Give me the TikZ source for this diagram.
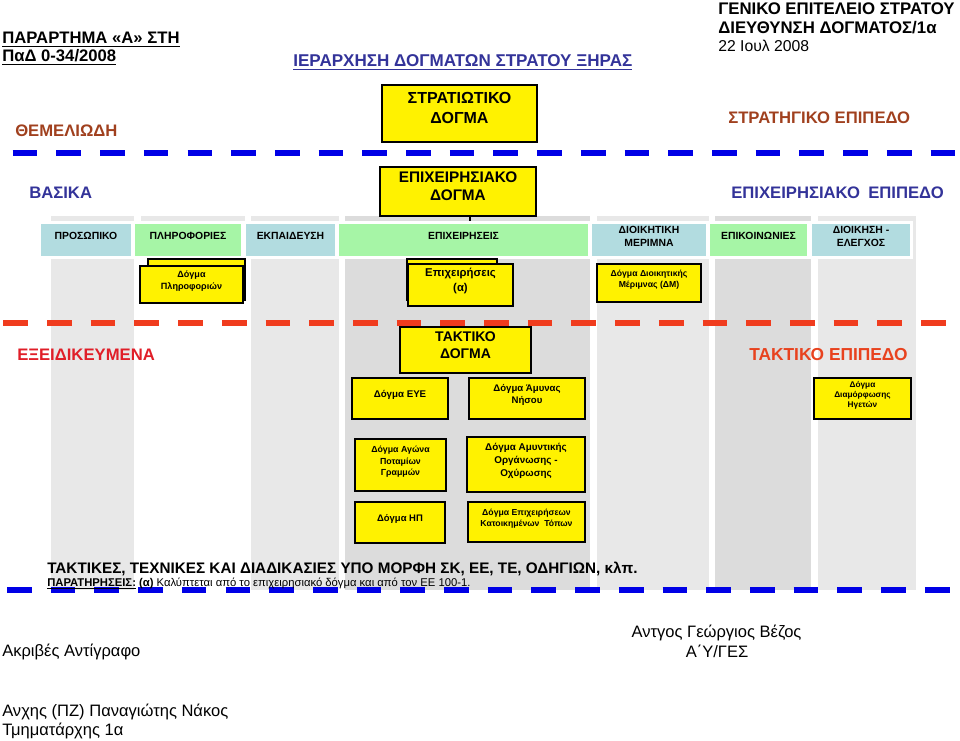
\documentclass[tikz,border=0pt]{standalone}
\usepackage{fontspec}
\setmainfont{Liberation Sans}
\usetikzlibrary{fit}

\definecolor{brownlbl}{RGB}{160,64,30}
\definecolor{navylbl}{RGB}{51,51,153}
\definecolor{redlbl}{RGB}{224,30,40}
\definecolor{orangelbl}{RGB}{232,66,30}
\definecolor{bluedash}{RGB}{0,0,230}
\definecolor{reddash}{RGB}{240,60,30}
\definecolor{hdrblue}{RGB}{178,220,224}
\definecolor{hdrgreen}{RGB}{166,245,166}
\definecolor{collight}{RGB}{232,232,232}
\definecolor{coldark}{RGB}{220,220,220}

\begin{document}
\begin{tikzpicture}[x=0.75pt, y=-0.75pt, line join=miter,
  dogma/.style={draw=black, fill=yellow, line width=1.6pt, inner sep=0pt, align=center, font=\bfseries},
  hdr/.style={fill=#1, preaction={draw=white, line width=4.5pt}, inner sep=0pt, align=center,
    font=\bfseries\fontsize{7.8}{9.5}\selectfont},
  lbl/.style={anchor=base west, inner sep=0pt, font=\bfseries\fontsize{12.5}{14}\selectfont},
  plain/.style={anchor=base west, inner sep=0pt, font=\fontsize{12.4}{14}\selectfont},
  level/.style={line width=4.5pt, dash pattern=on 18.5pt off 14.28pt}]
  \useasboundingbox (0,0) rectangle (960,741);

  % στήλες
  \fill[collight] (51,216) rectangle (134,590);
  \fill[collight] (141,216) rectangle (245,222);
  \fill[collight] (251,216) rectangle (339,590);
  \fill[coldark] (345,216) rectangle (590,590);
  \fill[collight] (597,216) rectangle (709,590);
  \fill[coldark] (715,216) rectangle (811,590);
  \fill[collight] (818,216) rectangle (916,590);

  % τίτλοι
  \node[lbl] (annex) at (2,44) {\underline{ΠΑΡΑΡΤΗΜΑ «Α» ΣΤΗ}};
  \node[lbl] (pad) at (2,62) {\underline{ΠαΔ 0-34/2008}};
  \node[lbl, text=navylbl, font=\bfseries\fontsize{12.8}{15}\selectfont] (hier) at (293,67) {\underline{ΙΕΡΑΡΧΗΣΗ ΔΟΓΜΑΤΩΝ ΣΤΡΑΤΟΥ ΞΗΡΑΣ}};
  \node[lbl, font=\bfseries\fontsize{12.6}{14}\selectfont] (ges) at (718,14.5) {ΓΕΝΙΚΟ ΕΠΙΤΕΛΕΙΟ ΣΤΡΑΤΟΥ};
  \node[lbl, font=\bfseries\fontsize{12.6}{14}\selectfont] (dd) at (718,34) {ΔΙΕΥΘΥΝΣΗ ΔΟΓΜΑΤΟΣ/1α};
  \node[plain, font=\fontsize{11.8}{14}\selectfont] (date) at (718,51.5) {22 Ιουλ 2008};

  % επίπεδα
  \node[lbl, text=brownlbl] (found) at (15,136.5) {ΘΕΜΕΛΙΩΔΗ};
  \node[lbl, text=brownlbl] (strat) at (728,124) {ΣΤΡΑΤΗΓΙΚΟ ΕΠΙΠΕΔΟ};
  \node[lbl, text=navylbl] (basic) at (29,199) {ΒΑΣΙΚΑ};
  \node[lbl, text=navylbl] (oper) at (731,198.5) {ΕΠΙΧΕΙΡΗΣΙΑΚΟ\hspace{0.5em}ΕΠΙΠΕΔΟ};
  \node[lbl, text=redlbl] (spec) at (17,360.5) {ΕΞΕΙΔΙΚΕΥΜΕΝΑ};
  \node[lbl, text=orangelbl, font=\bfseries\fontsize{13}{15}\selectfont] (tact) at (749,361) {ΤΑΚΤΙΚΟ ΕΠΙΠΕΔΟ};

  \draw[level, bluedash] (12.7,153) -- (955,153);
  \draw[level, reddash] (3.3,323) -- (946,323);
  \draw[level, bluedash] (7,590) -- (950,590);

  % κεφαλίδες
  \node[hdr=hdrblue, fit={(41,224) (131,256)}] (pers) {ΠΡΟΣΩΠΙΚΟ};
  \node[hdr=hdrgreen, fit={(135,224) (241,256)}] (intel) {ΠΛΗΡΟΦΟΡΙΕΣ};
  \node[hdr=hdrblue, fit={(246,224) (335,256)}] (train) {ΕΚΠΑΙΔΕΥΣΗ};
  \node[hdr=hdrgreen, fit={(339,224) (588,256)}] (ops) {ΕΠΙΧΕΙΡΗΣΕΙΣ};
  \node[hdr=hdrblue, fit={(592,224) (706,256)}] (logi) {ΔΙΟΙΚΗΤΙΚΗ\\ΜΕΡΙΜΝΑ};
  \node[hdr=hdrgreen, fit={(710,224) (807,256)}] (comm) {ΕΠΙΚΟΙΝΩΝΙΕΣ};
  \node[hdr=hdrblue, fit={(812,224) (910,256)}] (cmd) {ΔΙΟΙΚΗΣΗ -\\ΕΛΕΓΧΟΣ};

  % δόγματα
  \node[dogma, fit={(382,85) (537,142)}, font=\bfseries\fontsize{12}{14.5}\selectfont] (mil) {ΣΤΡΑΤΙΩΤΙΚΟ\\ΔΟΓΜΑ};
  \node[dogma, fit={(380,167) (536,216)}, font=\bfseries\fontsize{11.5}{14}\selectfont] (opdog) {ΕΠΙΧΕΙΡΗΣΙΑΚΟ\\ΔΟΓΜΑ};
  \draw[line width=0.8pt] (opdog.south -| 470,0) -- ++(0,4);

  \node[dogma, fit={(148,259) (245,300)}] (intelback) {};
  \node[dogma, fit={(140,266) (243,303)}, font=\bfseries\fontsize{6.8}{9}\selectfont] (inteldog) {Δόγμα\\Πληροφοριών};
  \node[dogma, fit={(407,259) (497,300)}] (opsback) {};
  \node[dogma, fit={(408,264) (513,306)}, font=\bfseries\fontsize{8.5}{11}\selectfont] (opsdog) {Επιχειρήσεις\\(α)};
  \node[dogma, fit={(597,264) (701,302)}, font=\bfseries\fontsize{6.5}{8.5}\selectfont] (logidog) {Δόγμα Διοικητικής\\Μέριμνας (ΔΜ)};

  \node[dogma, fit={(400,327) (531,373)}, font=\bfseries\fontsize{10.5}{13}\selectfont] (tactdog) {ΤΑΚΤΙΚΟ\\ΔΟΓΜΑ};
  \node[dogma, fit={(352,378) (448,419)}, font=\bfseries\fontsize{7.3}{9}\selectfont] (eye) {Δόγμα ΕΥΕ};
  \node[dogma, fit={(469,378) (585,419)}, font=\bfseries\fontsize{7.2}{9}\selectfont] (island) {Δόγμα Άμυνας\\Νήσου};
  \node[dogma, fit={(814,378) (911,419)}, font=\bfseries\fontsize{6.2}{7.5}\selectfont] (leaders) {Δόγμα\\Διαμόρφωσης\\Ηγετών};
  \node[dogma, fit={(355,439) (446,491)}, font=\bfseries\fontsize{6.6}{8.5}\selectfont] (river) {Δόγμα Αγώνα\\Ποταμίων\\Γραμμών};
  \node[dogma, fit={(467,437) (585,492)}, font=\bfseries\fontsize{7.4}{9.5}\selectfont] (fort) {Δόγμα Αμυντικής\\Οργάνωσης -\\Οχύρωσης};
  \node[dogma, fit={(355,502) (445,543)}, font=\bfseries\fontsize{7.1}{9}\selectfont] (np) {Δόγμα ΗΠ};
  \node[dogma, fit={(468,502) (585,542)}, font=\bfseries\fontsize{6.5}{8.5}\selectfont] (urban) {Δόγμα Επιχειρήσεων\\Κατοικημένων\ \ Τόπων};

  % σημειώσεις
  \node[lbl, font=\bfseries\fontsize{11.45}{14}\selectfont] (ttp) at (47,573) {ΤΑΚΤΙΚΕΣ, ΤΕΧΝΙΚΕΣ ΚΑΙ ΔΙΑΔΙΚΑΣΙΕΣ ΥΠΟ ΜΟΡΦΗ ΣΚ, ΕΕ, ΤΕ, ΟΔΗΓΙΩΝ, κλπ.};
  \node[plain, font=\fontsize{8.45}{10}\selectfont] (notes) at (47,586) {\textbf{\underline{ΠΑΡΑΤΗΡΗΣΕΙΣ:} (α)} Καλύπτεται από το επιχειρησιακό δόγμα και από τον ΕΕ 100-1.};

  % υπογραφές
  \node[plain] (copy) at (2,656) {Ακριβές Αντίγραφο};
  \node[plain, anchor=base] (chief) at (716.5,637) {Αντγος Γεώργιος Βέζος};
  \node[plain, anchor=base] (chiefrole) at (717,657) {Α΄Υ/ΓΕΣ};
  \node[plain] (officer) at (2,716) {Ανχης (ΠΖ) Παναγιώτης Νάκος};
  \node[plain] (officerrole) at (2,735) {Τμηματάρχης 1α};
\end{tikzpicture}
\end{document}
